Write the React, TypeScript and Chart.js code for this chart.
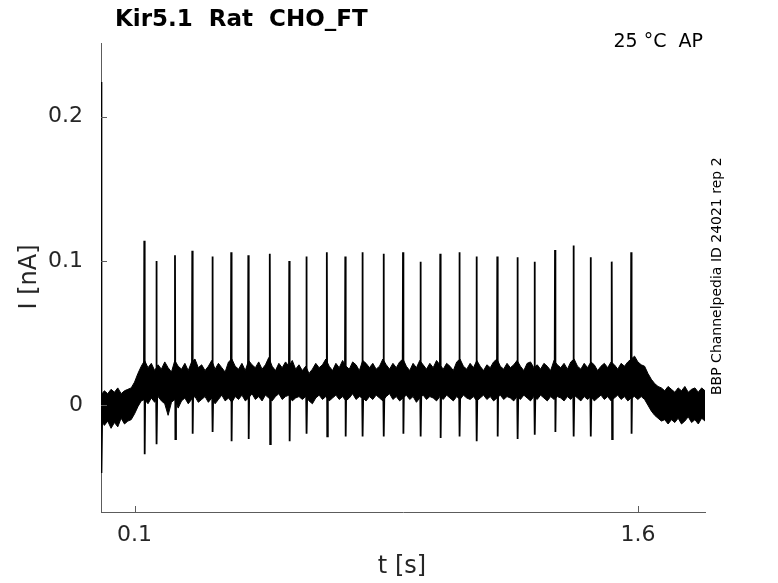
import { useEffect, useRef } from 'react';
import { Chart, registerables, Plugin } from 'chart.js';

Chart.register(...registerables);

// noise band envelope (nA), one value per 10 ms
const bandTimes = [
  0.0, 0.01, 0.02, 0.03, 0.04, 0.05, 0.06, 0.07, 0.08, 0.09,
  0.1, 0.11, 0.12, 0.13, 0.14, 0.15, 0.16, 0.17, 0.18, 0.19,
  0.2, 0.21, 0.22, 0.23, 0.24, 0.25, 0.26, 0.27, 0.28, 0.29,
  0.3, 0.31, 0.32, 0.33, 0.34, 0.35, 0.36, 0.37, 0.38, 0.39,
  0.4, 0.41, 0.42, 0.43, 0.44, 0.45, 0.46, 0.47, 0.48, 0.49,
  0.5, 0.51, 0.52, 0.53, 0.54, 0.55, 0.56, 0.57, 0.58, 0.59,
  0.6, 0.61, 0.62, 0.63, 0.64, 0.65, 0.66, 0.67, 0.68, 0.69,
  0.7, 0.71, 0.72, 0.73, 0.74, 0.75, 0.76, 0.77, 0.78, 0.79,
  0.8, 0.81, 0.82, 0.83, 0.84, 0.85, 0.86, 0.87, 0.88, 0.89,
  0.9, 0.91, 0.92, 0.93, 0.94, 0.95, 0.96, 0.97, 0.98, 0.99,
  1.0, 1.01, 1.02, 1.03, 1.04, 1.05, 1.06, 1.07, 1.08, 1.09,
  1.1, 1.11, 1.12, 1.13, 1.14, 1.15, 1.16, 1.17, 1.18, 1.19,
  1.2, 1.21, 1.22, 1.23, 1.24, 1.25, 1.26, 1.27, 1.28, 1.29,
  1.3, 1.31, 1.32, 1.33, 1.34, 1.35, 1.36, 1.37, 1.38, 1.39,
  1.4, 1.41, 1.42, 1.43, 1.44, 1.45, 1.46, 1.47, 1.48, 1.49,
  1.5, 1.51, 1.52, 1.53, 1.54, 1.55, 1.56, 1.57, 1.58, 1.59,
  1.6, 1.61, 1.62, 1.63, 1.64, 1.65, 1.66, 1.67, 1.68, 1.69,
  1.7, 1.71, 1.72, 1.73, 1.74, 1.75, 1.76, 1.77, 1.78, 1.79, 1.8,
];
const bandUpper = [
  0.007, 0.010, 0.008, 0.011, 0.009, 0.012, 0.008, 0.010, 0.011, 0.012,
  0.016, 0.022, 0.027, 0.031, 0.026, 0.029, 0.024, 0.028, 0.025, 0.030,
  0.026, 0.023, 0.031, 0.027, 0.025, 0.029, 0.024, 0.030, 0.032, 0.026,
  0.028, 0.024, 0.027, 0.031, 0.025, 0.029, 0.026, 0.023, 0.030, 0.032,
  0.027, 0.025, 0.029, 0.024, 0.031, 0.028, 0.026, 0.030, 0.025, 0.028,
  0.033, 0.027, 0.024, 0.029, 0.026, 0.030, 0.027, 0.031, 0.025, 0.028,
  0.024, 0.027, 0.022, 0.025, 0.029, 0.026, 0.028, 0.032, 0.027, 0.024,
  0.029, 0.026, 0.031, 0.027, 0.025, 0.030, 0.028, 0.024, 0.031, 0.029,
  0.026, 0.029, 0.025, 0.027, 0.032, 0.028, 0.025, 0.029, 0.026, 0.030,
  0.032, 0.027, 0.024, 0.029, 0.026, 0.031, 0.028, 0.025, 0.029, 0.026,
  0.031, 0.028, 0.025, 0.029, 0.027, 0.024, 0.030, 0.032, 0.027, 0.025,
  0.029, 0.026, 0.031, 0.027, 0.024, 0.028, 0.026, 0.030, 0.032, 0.027,
  0.025, 0.029, 0.026, 0.028, 0.031, 0.027, 0.024, 0.029, 0.030, 0.026,
  0.028, 0.025, 0.029, 0.027, 0.024, 0.031, 0.028, 0.026, 0.029, 0.025,
  0.030, 0.032, 0.027, 0.025, 0.029, 0.026, 0.030, 0.028, 0.024, 0.027,
  0.029, 0.026, 0.030, 0.028, 0.025, 0.029, 0.027, 0.030, 0.032, 0.034,
  0.030, 0.028, 0.027, 0.022, 0.018, 0.015, 0.013, 0.012, 0.010, 0.013,
  0.011, 0.009, 0.012, 0.010, 0.013, 0.009, 0.011, 0.012, 0.009, 0.012, 0.010,
];
const bandLower = [
  -0.010, -0.014, -0.011, -0.016, -0.012, -0.015, -0.009, -0.013, -0.011, -0.010,
  -0.006, -0.001, 0.003, 0.004, 0.001, 0.005, 0.002, 0.006, 0.003, 0.001,
  -0.007, 0.002, 0.004, -0.002, 0.003, 0.005, 0.001, 0.004, 0.006, 0.002,
  0.004, 0.006, 0.002, 0.005, 0.001, 0.004, 0.007, 0.003, 0.005, 0.002,
  0.006, 0.004, 0.007, 0.003, 0.005, 0.008, 0.004, 0.006, 0.003, 0.007,
  0.005, 0.003, 0.006, 0.008, 0.004, 0.006, 0.007, 0.003, 0.005, 0.006,
  0.004, 0.006, 0.003, 0.001, 0.005, 0.007, 0.004, 0.006, 0.003, 0.005,
  0.007, 0.004, 0.006, 0.003, 0.005, 0.008, 0.004, 0.006, 0.005, 0.003,
  0.006, 0.004, 0.007, 0.005, 0.003, 0.006, 0.008, 0.004, 0.006, 0.003,
  0.005, 0.007, 0.004, 0.006, 0.002, 0.005, 0.007, 0.004, 0.006, 0.005,
  0.003, 0.006, 0.004, 0.007, 0.005, 0.003, 0.006, 0.004, 0.007, 0.005,
  0.004, 0.006, 0.003, 0.005, 0.007, 0.004, 0.006, 0.003, 0.005, 0.007,
  0.004, 0.006, 0.005, 0.003, 0.006, 0.004, 0.007, 0.005, 0.003, 0.006,
  0.004, 0.007, 0.005, 0.003, 0.006, 0.004, 0.006, 0.005, 0.003, 0.006,
  0.004, 0.007, 0.005, 0.003, 0.006, 0.004, 0.006, 0.003, 0.005, 0.007,
  0.004, 0.006, 0.003, 0.005, 0.007, 0.004, 0.006, 0.003, 0.005, 0.006,
  0.004, 0.006, 0.004, 0.000, -0.004, -0.007, -0.009, -0.011, -0.010, -0.013,
  -0.010, -0.012, -0.009, -0.013, -0.011, -0.008, -0.012, -0.010, -0.013, -0.009, -0.011,
];

// action potential clamp spikes
const spikeTimes = [
  0.129, 0.165, 0.2205, 0.272, 0.332, 0.388, 0.439, 0.503, 0.561, 0.612,
  0.673, 0.728, 0.779, 0.842, 0.9, 0.952, 1.011, 1.068, 1.119, 1.181,
  1.241, 1.292, 1.353, 1.408, 1.459, 1.522, 1.58,
];
const spikePeaks = [
  0.114, 0.1, 0.104, 0.107, 0.103, 0.106, 0.104, 0.105, 0.1, 0.103,
  0.106, 0.103, 0.106, 0.105, 0.106, 0.0995, 0.105, 0.106, 0.103, 0.103,
  0.1025, 0.0995, 0.1076, 0.1106, 0.1025, 0.0995, 0.106,
];
const spikeTroughs = [
  -0.034, -0.027, -0.0234, -0.0197, -0.0186, -0.025, -0.0234, -0.027, -0.025, -0.0197,
  -0.0216, -0.0216, -0.0216, -0.0216, -0.0197, -0.0216, -0.0227, -0.0216, -0.025, -0.0216,
  -0.0234, -0.0204, -0.0186, -0.0216, -0.0216, -0.0234, -0.0197,
];
const spikeBase = 0.017;

// capacitive transient at the start of the sweep
const transientTimes = [0.0, 0.0012, 0.0024, 0.004];
const transientValues = [0.0, 0.224, -0.047, -0.008];

const xTicks = [0.1, 1.6];
const yTicks = [0, 0.1, 0.2];

const FONT = '"DejaVu Sans", sans-serif';

const decorations: Plugin<'line'> = {
  id: 'decorations',
  afterDraw(chart) {
    const { ctx, chartArea, scales } = chart;
    ctx.save();
    // inward tick marks
    ctx.strokeStyle = '#5c5c5c';
    ctx.lineWidth = 1;
    ctx.beginPath();
    yTicks.forEach((v) => {
      const y = Math.round(scales.y.getPixelForValue(v)) + 0.5;
      ctx.moveTo(chartArea.left, y);
      ctx.lineTo(chartArea.left + 6, y);
    });
    xTicks.forEach((v) => {
      const x = Math.round(scales.x.getPixelForValue(v)) + 0.5;
      ctx.moveTo(x, chartArea.bottom);
      ctx.lineTo(x, chartArea.bottom - 6);
    });
    ctx.stroke();

    ctx.fillStyle = '#000';
    ctx.font = `bold 23px ${FONT}`;
    ctx.textAlign = 'left';
    ctx.textBaseline = 'alphabetic';
    ctx.fillText('Kir5.1  Rat  CHO_FT', 115, 26);

    ctx.font = `19px ${FONT}`;
    ctx.textAlign = 'right';
    ctx.fillText('25 °C  AP', 703, 47);

    ctx.fillStyle = '#262626';
    ctx.font = `24px ${FONT}`;
    ctx.textAlign = 'center';
    ctx.textBaseline = 'middle';
    ctx.fillText('t [s]', 402, 567);

    ctx.save();
    ctx.translate(30, 277);
    ctx.rotate(-Math.PI / 2);
    ctx.fillText('I [nA]', 0, 0);
    ctx.restore();

    ctx.save();
    ctx.fillStyle = '#000';
    ctx.translate(717, 395);
    ctx.rotate(-Math.PI / 2);
    ctx.font = `14px ${FONT}`;
    ctx.textAlign = 'left';
    ctx.textBaseline = 'middle';
    ctx.fillText('BBP Channelpedia ID 24021 rep 2', 0, 0);
    ctx.restore();

    ctx.restore();
  },
};

export default function App() {
  const canvasRef = useRef<HTMLCanvasElement>(null);
  const chartRef = useRef<Chart | null>(null);

  useEffect(() => {
    if (!canvasRef.current) return;
    if (chartRef.current) chartRef.current.destroy();

    const upper = bandTimes.map((t, i) => ({ x: t, y: bandUpper[i] }));
    const lower = bandTimes.map((t, i) => ({ x: t, y: bandLower[i] }));
    const spikes: { x: number; y: number | null }[] = [];
    spikeTimes.forEach((t, i) => {
      spikes.push({ x: t - 0.001, y: spikeBase });
      spikes.push({ x: t, y: spikePeaks[i] });
      spikes.push({ x: t + 0.0012, y: spikeTroughs[i] });
      spikes.push({ x: t + 0.003, y: spikeBase });
      spikes.push({ x: t + 0.003, y: null });
    });
    const transient = transientTimes.map((t, i) => ({ x: t, y: transientValues[i] }));

    chartRef.current = new Chart(canvasRef.current, {
      type: 'line',
      data: {
        datasets: [
          {
            data: upper,
            borderColor: '#000',
            backgroundColor: '#000',
            borderWidth: 1,
            pointRadius: 0,
            fill: '+1',
          },
          {
            data: lower,
            borderColor: '#000',
            borderWidth: 1,
            pointRadius: 0,
            fill: false,
          },
          {
            data: spikes,
            borderColor: '#000',
            borderWidth: 1.8,
            pointRadius: 0,
            spanGaps: false,
            fill: false,
          },
          {
            data: transient,
            borderColor: '#000',
            borderWidth: 1.5,
            pointRadius: 0,
            fill: false,
          },
        ],
      },
      options: {
        animation: false,
        responsive: true,
        maintainAspectRatio: false,
        layout: { padding: { top: 43, right: 73, left: 0, bottom: 0 } },
        plugins: {
          legend: { display: false },
          tooltip: { enabled: false },
        },
        scales: {
          x: {
            type: 'linear',
            min: 0,
            max: 1.8,
            grid: { display: false, drawTicks: false },
            border: { display: true, color: '#5c5c5c', width: 1 },
            afterBuildTicks: (scale) => {
              scale.ticks = xTicks.map((v) => ({ value: v }));
            },
            afterFit: (scale) => {
              scale.height = 71;
            },
            ticks: {
              color: '#262626',
              font: { family: FONT, size: 22 },
              padding: 10,
              maxRotation: 0,
              callback: (v) => String(v),
            },
          },
          y: {
            type: 'linear',
            min: -0.074,
            max: 0.251,
            grid: { display: false, drawTicks: false },
            border: { display: true, color: '#5c5c5c', width: 1 },
            afterBuildTicks: (scale) => {
              scale.ticks = yTicks.map((v) => ({ value: v }));
            },
            afterFit: (scale) => {
              scale.width = 101;
            },
            ticks: {
              color: '#262626',
              font: { family: FONT, size: 22 },
              padding: 18,
              callback: (v) => String(v),
            },
          },
        },
      },
      plugins: [decorations],
    });

    return () => {
      if (chartRef.current) {
        chartRef.current.destroy();
        chartRef.current = null;
      }
    };
  }, []);

  return (
    <div style={{ position: 'fixed', left: 0, top: 0, width: 778, height: 583, background: '#fff' }}>
      <canvas ref={canvasRef} />
    </div>
  );
}
